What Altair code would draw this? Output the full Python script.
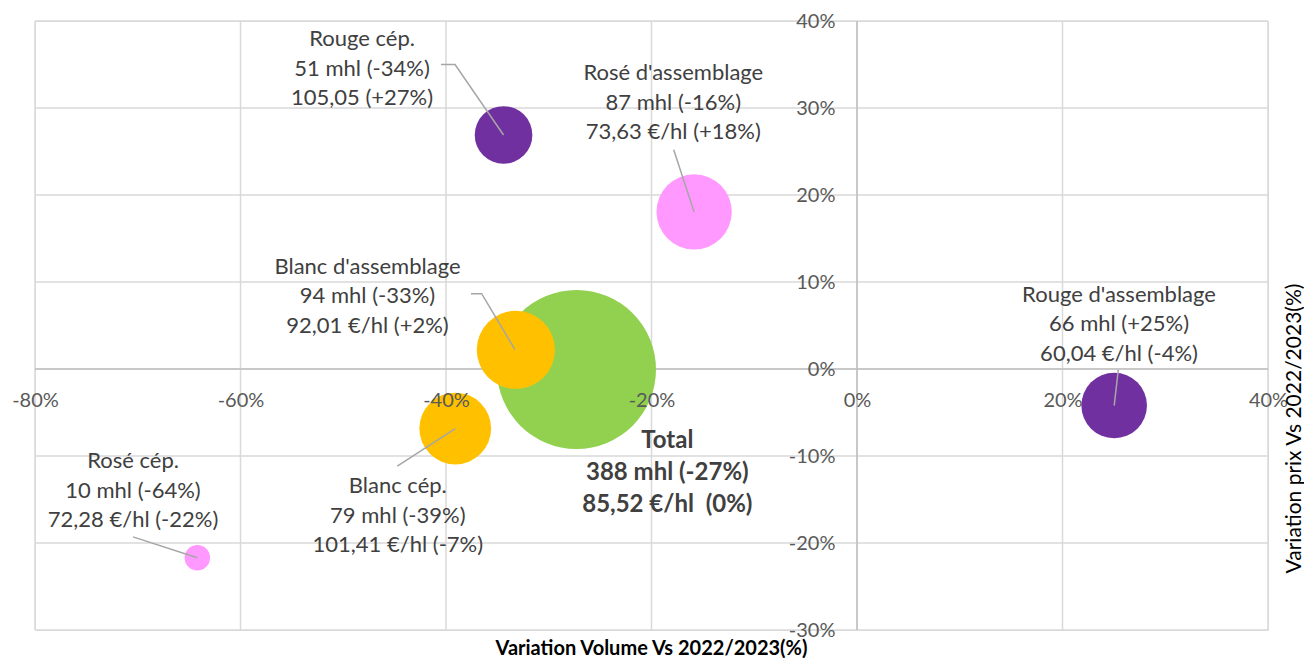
import altair as alt
import pandas as pd

# ---- data ----
names = ["Total", "Rouge cép.", "Rosé d'assemblage", "Blanc d'assemblage",
         "Blanc cép.", "Rosé cép.", "Rouge d'assemblage"]
families = ["Total", "Rouge", "Rosé", "Blanc", "Blanc", "Rosé", "Rouge"]
vol_var = [-27.3, -34.4, -15.85, -33.2, -39.1, -64.2, 25.03]      # x, %
price_var = [-0.05, 26.9, 18.05, 2.2, -6.84, -21.7, -4.2]          # y, %
volumes = [388, 51, 87, 94, 79, 10, 66]                            # mhl (bubble size)

labels = [
    "Total\n388 mhl (-27%)\n85,52 €/hl \u00a0(0%)",
    "Rouge cép.\n51 mhl (-34%)\n105,05 (+27%)",
    "Rosé d'assemblage\n87 mhl (-16%)\n73,63 €/hl (+18%)",
    "Blanc d'assemblage\n94 mhl (-33%)\n92,01 €/hl (+2%)",
    "Blanc cép.\n79 mhl (-39%)\n101,41 €/hl (-7%)",
    "Rosé cép.\n10 mhl (-64%)\n72,28 €/hl (-22%)",
    "Rouge d'assemblage\n66 mhl (+25%)\n60,04 €/hl (-4%)",
]
# label anchor = centre of the first line (data units, %)
label_x = [-18.46, -48.17, -17.88, -47.64, -44.69, -70.46, 25.5]
label_y = [-8.24, 37.89, 33.97, 11.78, -13.50, -10.60, 8.54]

# leader lines (data units, %)
leader_name = ["Rouge cép.", "Rouge cép.", "Rouge cép.",
               "Rosé d'assemblage", "Rosé d'assemblage",
               "Blanc d'assemblage", "Blanc d'assemblage", "Blanc d'assemblage",
               "Blanc cép.", "Blanc cép.",
               "Rosé cép.", "Rosé cép.",
               "Rouge d'assemblage", "Rouge d'assemblage"]
leader_x = [-40.49, -39.12, -34.4,
            -17.84, -15.85,
            -37.57, -36.53, -33.3,
            -44.74, -39.1,
            -70.46, -64.2,
            25.43, 25.03]
leader_y = [35.0, 35.0, 26.9,
            25.2, 18.05,
            8.66, 8.66, 2.25,
            -11.17, -6.84,
            -19.3, -21.7,
            -0.11, -4.2]

x_ticks = [-80, -60, -40, -20, 0, 20, 40]
y_ticks = [-30, -20, -10, 0, 10, 20, 30, 40]

family_domain = ["Total", "Rouge", "Rosé", "Blanc"]
family_colors = ["#92D050", "#7030A0", "#FF99FF", "#FFC000"]

# ---- tables ----
bubbles = pd.DataFrame({"name": names, "family": families, "x": vol_var,
                        "y": price_var, "vol": volumes})
lab = pd.DataFrame({"name": names, "label": labels, "x": label_x, "y": label_y})
lead = pd.DataFrame({"name": leader_name, "x": leader_x, "y": leader_y,
                     "order": list(range(len(leader_x)))})
xg = pd.DataFrame({"v": x_ticks})
yg = pd.DataFrame({"v": y_ticks})

FONT = "Lato"
W, H = 1233, 609
xs = alt.Scale(domain=[-80, 40], nice=False, zero=False)
ys = alt.Scale(domain=[-30, 40], nice=False, zero=False)

x_axis = alt.Axis(values=x_ticks, labelExpr="datum.value + '%'", grid=False,
                  domain=False, ticks=False, orient="bottom", offset=-261,
                  labelPadding=21, labelFont=FONT, labelFontSize=20,
                  labelColor="#595959", labelFlush=False,
                  title="Variation Volume Vs 2022/2023(%)", titleFont=FONT,
                  titleFontSize=20, titleFontWeight="bold", titleColor="#000000",
                  titleX=616, titleY=279, titleBaseline="middle", titleAlign="center",
                  zindex=1)
y_axis = alt.Axis(values=y_ticks, labelExpr="datum.value + '%'", grid=False,
                  domain=False, ticks=False, orient="left", offset=-822,
                  labelPadding=22, labelFont=FONT, labelFontSize=20,
                  labelColor="#595959", labelFlush=False,
                  title="Variation prix Vs 2022/2023(%)", titleFont=FONT,
                  titleFontSize=21, titleFontWeight="normal", titleColor="#000000",
                  titleX=437, titleY=407, titleAngle=270, titleBaseline="middle",
                  titleAlign="center", zindex=1)

grid_x = alt.Chart(xg).mark_rule(color="#D9D9D9", strokeWidth=1.5).encode(
    x=alt.X("v:Q", scale=xs, axis=x_axis))
grid_y = alt.Chart(yg).mark_rule(color="#D9D9D9", strokeWidth=1.5).encode(
    y=alt.Y("v:Q", scale=ys, axis=y_axis))
zero_x = alt.Chart(xg).transform_filter("datum.v == 0").mark_rule(
    color="#BFBFBF", strokeWidth=1.5).encode(x=alt.X("v:Q", scale=xs, axis=x_axis))
zero_y = alt.Chart(yg).transform_filter("datum.v == 0").mark_rule(
    color="#BFBFBF", strokeWidth=1.5).encode(y=alt.Y("v:Q", scale=ys, axis=y_axis))

bub = alt.Chart(bubbles).mark_circle(opacity=1).encode(
    x=alt.X("x:Q", scale=xs, axis=x_axis),
    y=alt.Y("y:Q", scale=ys, axis=y_axis),
    size=alt.Size("vol:Q", scale=alt.Scale(domain=[0, 388], range=[0, 25281]),
                  legend=None),
    color=alt.Color("family:N", scale=alt.Scale(domain=family_domain,
                                                range=family_colors), legend=None),
    order=alt.Order("vol:Q", sort="descending"),
)

leaders = alt.Chart(lead).mark_line(color="#A6A6A6", strokeWidth=1.5).encode(
    x=alt.X("x:Q", scale=xs, axis=x_axis),
    y=alt.Y("y:Q", scale=ys, axis=y_axis),
    detail="name:N",
    order="order:Q",
)

txt = alt.Chart(lab).transform_filter("datum.name != 'Total'").mark_text(
    font=FONT, fontSize=22, color="#404040", lineBreak="\n", lineHeight=29.5,
    align="center", baseline="middle").encode(
    x=alt.X("x:Q", scale=xs, axis=x_axis), y=alt.Y("y:Q", scale=ys, axis=y_axis),
    text="label:N")

txt_total = alt.Chart(lab).transform_filter("datum.name == 'Total'").mark_text(
    font=FONT, fontSize=24, fontWeight="bold", color="#404040", lineBreak="\n",
    lineHeight=32, align="center", baseline="middle").encode(
    x=alt.X("x:Q", scale=xs, axis=x_axis), y=alt.Y("y:Q", scale=ys, axis=y_axis),
    text="label:N")

chart = alt.layer(grid_x, grid_y, zero_x, zero_y, bub, leaders, txt, txt_total).properties(
    width=W, height=H,
    autosize=alt.AutoSizeParams(type="none"),
    padding={"left": 27, "top": 13, "right": 36, "bottom": 28},
).configure_view(stroke=None).configure(background="white")

chart.save("out.html", embed_options={"renderer": "svg", "actions": False})
